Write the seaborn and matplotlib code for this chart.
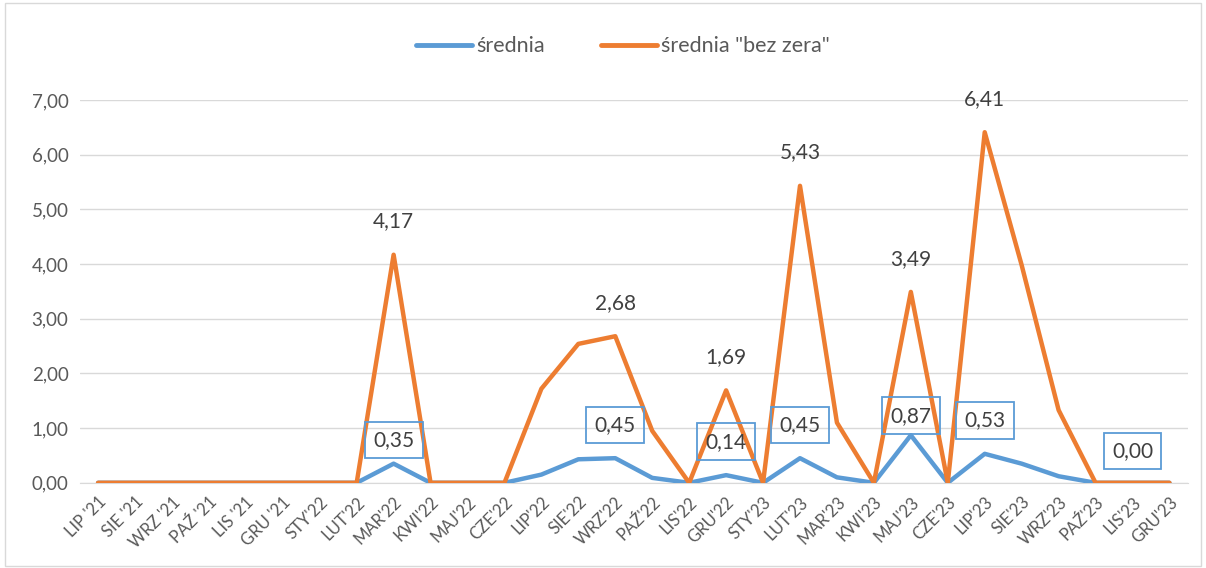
import numpy as np
import pandas as pd
import matplotlib
matplotlib.use("Agg")
import matplotlib.pyplot as plt
import seaborn as sns

months = ["LIP '21", "SIE '21", "WRZ '21", "PAŹ '21", "LIS '21", "GRU '21",
          "STY'22", "LUT'22", "MAR'22", "KWI'22", "MAJ'22", "CZE'22",
          "LIP'22", "SIE'22", "WRZ'22", "PAŹ'22", "LIS'22", "GRU'22",
          "STY'23", "LUT'23", "MAR'23", "KWI'23", "MAJ'23", "CZE'23",
          "LIP'23", "SIE'23", "WRZ'23", "PAŹ'23", "LIS'23", "GRU'23"]
srednia = [0, 0, 0, 0, 0, 0, 0, 0, 0.35, 0, 0, 0,
           0.15, 0.43, 0.45, 0.09, 0, 0.14, 0, 0.45, 0.10, 0, 0.87, 0,
           0.53, 0.35, 0.12, 0, 0, 0]
bez_zera = [0, 0, 0, 0, 0, 0, 0, 0, 4.17, 0, 0, 0,
            1.72, 2.54, 2.68, 0.95, 0, 1.69, 0, 5.43, 1.10, 0, 3.49, 0,
            6.41, 3.98, 1.33, 0, 0, 0]

# which points get labels (and how far above the point the boxed label sits, in pt)
blue_labels = {"MAR'22": 17, "WRZ'22": 24, "GRU'22": 24, "LUT'23": 24,
               "MAJ'23": 14, "LIP'23": 24, "LIS'23": 23}
orange_labels = ["MAR'22", "WRZ'22", "GRU'22", "LUT'23", "MAJ'23", "LIP'23"]

s1 = "średnia"
s2 = 'średnia "bez zera"'
df = pd.DataFrame({"miesiac": months * 2,
                   "wartosc": srednia + bez_zera,
                   "seria": [s1] * len(months) + [s2] * len(months)})
df["x"] = list(range(len(months))) * 2

sns.set_style("white")
plt.rcParams["font.family"] = ["Lato", "DejaVu Sans"]

fig = plt.figure(figsize=(12.06, 5.68), dpi=100)
ax = fig.add_axes([0.066, 0.150, 0.919, 0.674])

blue = "#5B9BD5"
orange = "#ED7D31"
sns.lineplot(data=df, x="x", y="wartosc", hue="seria", palette=[blue, orange],
             linewidth=3.2, ax=ax, legend=True, solid_capstyle="round", zorder=3)

ax.set_xlim(-0.5, len(months) - 0.5)
ax.set_ylim(0, 7)
ax.set_yticks(np.arange(0, 8, 1))
ax.set_yticklabels([f"{v:.2f}".replace(".", ",") for v in range(8)],
                   fontsize=13.5, color="#595959")
ax.set_xticks(range(len(months)))
ax.set_xticklabels(months, rotation=45, ha="right", rotation_mode="anchor",
                   fontsize=12, color="#595959")
ax.tick_params(axis="both", length=0, pad=8)
ax.set_xlabel("")
ax.set_ylabel("")
ax.grid(axis="y", color="#D9D9D9", linewidth=1)
for s in ["top", "right", "left"]:
    ax.spines[s].set_visible(False)
ax.spines["bottom"].set_color("#D9D9D9")

for i, m in enumerate(months):
    if m in orange_labels:
        ax.annotate(f"{bez_zera[i]:.2f}".replace(".", ","), (i, bez_zera[i]),
                    xytext=(0, 24), textcoords="offset points", ha="center",
                    va="center", fontsize=15, color="#404040")
    if m in blue_labels:
        ax.annotate(f"{srednia[i]:.2f}".replace(".", ","), (i, srednia[i]),
                    xytext=(0, blue_labels[m]), textcoords="offset points", ha="center",
                    va="center", fontsize=15, color="#404040", zorder=5,
                    bbox=dict(boxstyle="square,pad=0.4", fc="none", ec=blue, lw=1.3))

leg = ax.legend(loc="center", bbox_to_anchor=(0.49, 1.14), ncol=2, frameon=False,
                fontsize=15.5, handlelength=2.6, columnspacing=2.6, handletextpad=0.2)
for t in leg.get_texts():
    t.set_color("#595959")
for h in leg.get_lines():
    h.set_linewidth(3.5)

fig.patches.append(plt.Rectangle((0.004, 0.004), 0.992, 0.99, transform=fig.transFigure,
                                 fill=False, ec="#D9D9D9", lw=1))

fig.savefig("out.png", dpi=100)
